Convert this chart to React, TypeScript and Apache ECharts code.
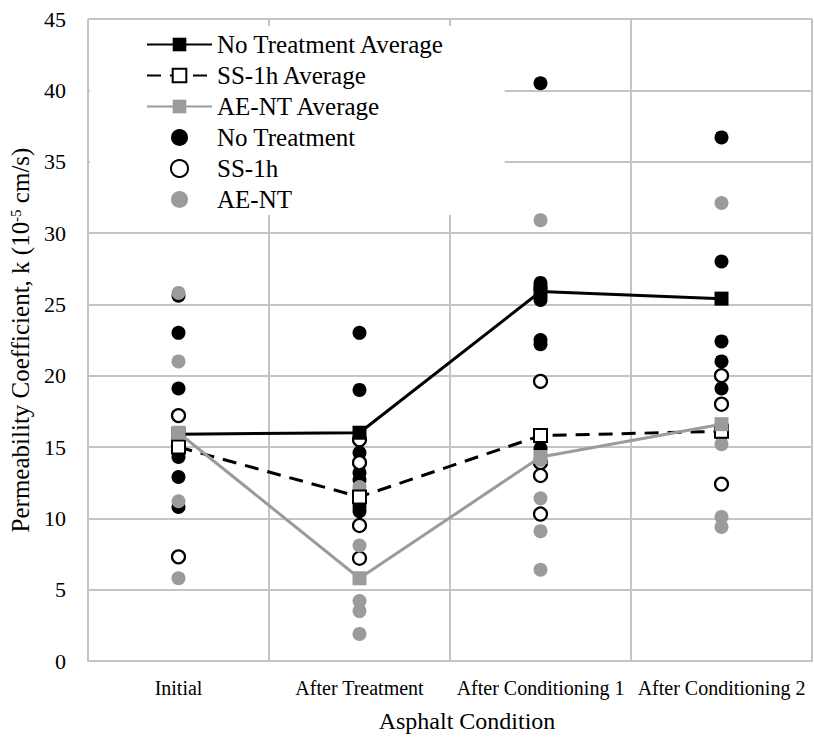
import React, { useEffect, useRef } from "react";
import * as echarts from "echarts";

const categories = ["Initial", "After Treatment", "After Conditioning 1", "After Conditioning 2"];

const noTreatmentAvg = [15.9, 16.0, 25.9, 25.4];
const ss1hAvg = [15.0, 11.5, 15.8, 16.1];
const aeNtAvg = [16.0, 5.8, 14.3, 16.6];

const noTreatmentInitial = [25.6, 23.0, 19.1, 14.3, 12.9, 10.8];
const noTreatmentAfterTreatment = [23.0, 19.0, 14.6, 13.2, 12.7, 10.8, 10.5];
const noTreatmentCond1 = [40.5, 26.5, 26.1, 25.3, 22.5, 22.2, 14.9];
const noTreatmentCond2 = [36.7, 28.0, 22.4, 21.0, 19.1, 15.9];

const ss1hInitial = [17.2, 15.1, 7.3];
const ss1hAfterTreatment = [15.5, 13.9, 9.5, 7.2];
const ss1hCond1 = [19.6, 13.9, 13.0, 10.3];
const ss1hCond2 = [20.0, 18.0, 12.4];

const aeNtInitial = [25.8, 21.0, 11.2, 5.8];
const aeNtAfterTreatment = [12.2, 8.1, 4.2, 3.5, 1.9];
const aeNtCond1 = [30.9, 14.1, 11.4, 9.1, 6.4];
const aeNtCond2 = [32.1, 15.2, 10.1, 9.4];

const yTicks = { min: 0, max: 45, interval: 5 };

const FONT = "Liberation Serif, Times New Roman, serif";
const GRAY = "#9b9b9b";
const GRID = "#c4c4c4";

function toPoints(groups: number[][]) {
  const out: [number, number][] = [];
  groups.forEach((vals, i) => vals.forEach((v) => out.push([i, v])));
  return out;
}

export default function App() {
  const ref = useRef<HTMLDivElement>(null);
  useEffect(() => {
    if (!ref.current) return;
    const chart = echarts.init(ref.current, undefined, { renderer: "svg" });
    const option = {
      animation: false,
      backgroundColor: "#fff",
      grid: { left: 88, right: 2, top: 19, bottom: 76 },
      legend: {
        orient: "vertical",
        left: 90,
        top: 26,
        backgroundColor: "#fff",
        padding: [6, 60, 3, 56],
        itemWidth: 65,
        itemHeight: 17,
        itemGap: 6,
        selectedMode: false,
        textStyle: { fontSize: 25, fontFamily: FONT, color: "#000", lineHeight: 25 },
        data: [
          "No Treatment Average",
          "SS-1h Average",
          "AE-NT Average",
          "No Treatment",
          "SS-1h",
          "AE-NT",
        ],
      },
      xAxis: {
        type: "category",
        data: categories,
        boundaryGap: true,
        name: "Asphalt Condition",
        nameLocation: "middle",
        nameGap: 48,
        nameTextStyle: { fontSize: 24, fontFamily: FONT, color: "#000", padding: [0, 0, 0, 34] },
        axisLine: { show: true, lineStyle: { color: GRID, width: 2 } },
        axisTick: { show: false },
        axisLabel: { fontSize: 20, fontFamily: FONT, color: "#000", margin: 17, interval: 0 },
        splitLine: { show: true, interval: 0, lineStyle: { color: GRID, width: 2 } },
      },
      yAxis: {
        type: "value",
        min: yTicks.min,
        max: yTicks.max,
        interval: yTicks.interval,
        name: "Permeability Coefficient, k (10{sup|-5} cm/s)",
        nameLocation: "middle",
        nameGap: 53,
        nameTextStyle: {
          fontSize: 25,
          fontFamily: FONT,
          color: "#000",
          rich: {
            sup: { fontSize: 15, fontFamily: FONT, color: "#000", verticalAlign: "top", lineHeight: 25 },
          },
        },
        axisLine: { show: false },
        axisTick: { show: false },
        axisLabel: { fontSize: 22, fontFamily: FONT, color: "#000", margin: 22 },
        splitLine: { show: true, lineStyle: { color: GRID, width: 2 } },
      },
      series: [
        {
          name: "No Treatment",
          type: "scatter",
          symbol: "circle",
          symbolSize: 14,
          itemStyle: { color: "#000", opacity: 1 },
          data: toPoints([noTreatmentInitial, noTreatmentAfterTreatment, noTreatmentCond1, noTreatmentCond2]),
          z: 2,
        },
        {
          name: "SS-1h",
          type: "scatter",
          symbol: "circle",
          symbolSize: 13,
          itemStyle: { color: "#fff", borderColor: "#000", borderWidth: 2.2, opacity: 1 },
          data: toPoints([ss1hInitial, ss1hAfterTreatment, ss1hCond1, ss1hCond2]),
          z: 3,
        },
        {
          name: "AE-NT",
          type: "scatter",
          symbol: "circle",
          symbolSize: 14,
          itemStyle: { color: GRAY, opacity: 1 },
          data: toPoints([aeNtInitial, aeNtAfterTreatment, aeNtCond1, aeNtCond2]),
          z: 4,
        },
        {
          name: "No Treatment Average",
          type: "line",
          symbol: "rect",
          symbolSize: 14,
          showSymbol: true,
          itemStyle: { color: "#000", opacity: 1 },
          lineStyle: { color: "#000", width: 3 },
          data: noTreatmentAvg,
          z: 5,
        },
        {
          name: "SS-1h Average",
          type: "line",
          symbol: "rect",
          symbolSize: 13,
          showSymbol: true,
          itemStyle: { color: "#fff", borderColor: "#000", borderWidth: 2, opacity: 1 },
          lineStyle: { color: "#000", width: 3, type: [14, 9] },
          data: ss1hAvg,
          z: 6,
        },
        {
          name: "AE-NT Average",
          type: "line",
          symbol: "rect",
          symbolSize: 14,
          showSymbol: true,
          itemStyle: { color: GRAY, opacity: 1 },
          lineStyle: { color: GRAY, width: 3 },
          data: aeNtAvg,
          z: 7,
        },
      ],
    };
    chart.setOption(option as any);
    return () => chart.dispose();
  }, []);
  return (
    <div
      ref={ref}
      style={{ position: "fixed", left: 0, top: 0, width: 814, height: 738, background: "#fff" }}
    />
  );
}
